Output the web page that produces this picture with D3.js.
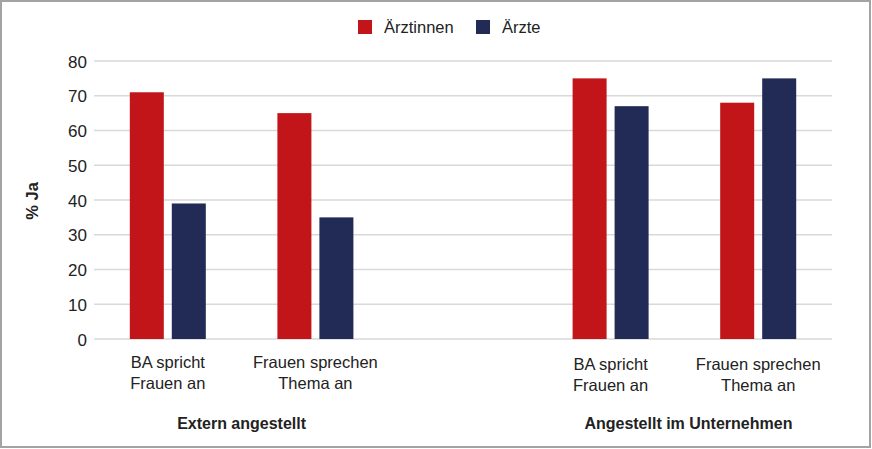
<!DOCTYPE html>
<html>
<head>
<meta charset="utf-8">
<script src="https://cdn.jsdelivr.net/npm/d3@7"></script>
<style>
  html, body { margin: 0; padding: 0; background: #fff; }
  svg { display: block; }
  text { font-family: "Liberation Sans", Arial, sans-serif; fill: #222; }
</style>
</head>
<body>
<script>
const categories = ["BA spricht|Frauen an", "Frauen sprechen|Thema an", "", "BA spricht|Frauen an", "Frauen sprechen|Thema an"];
const slots = ["c1", "c2", "gap", "c3", "c4"];
const seriesNames = ["Ärztinnen", "Ärzte"];
const aerztinnen = [71, 65, null, 75, 68];
const aerzte = [39, 35, null, 67, 75];
const groupLabels = ["Extern angestellt", "Angestellt im Unternehmen"];
const groupSlots = [["c1", "c2"], ["c3", "c4"]];
const yTicks = [0, 10, 20, 30, 40, 50, 60, 70, 80];
const colors = ["#c1151a", "#212b55"];

const W = 872, H = 449;
const svg = d3.select("body").append("svg").attr("width", W).attr("height", H);

svg.append("rect").attr("x", 1).attr("y", 1).attr("width", W - 3).attr("height", H - 3)
  .attr("fill", "#fff").attr("stroke", "#a3a3a3").attr("stroke-width", 2);

const x = d3.scaleBand().domain(slots).range([94, 832]).padding(0);
const y = d3.scaleLinear().domain([0, 80]).range([339, 61]);

// grid
svg.append("g").selectAll("line").data(yTicks).join("line")
  .attr("x1", 94).attr("x2", 832)
  .attr("y1", d => y(d)).attr("y2", d => y(d))
  .attr("stroke", "#d9d9d9").attr("stroke-width", 1.6);

// y axis labels
const yAxis = d3.axisLeft(y).tickValues(yTicks).tickSize(0).tickPadding(0);
const ga = svg.append("g").attr("transform", "translate(87,0)").call(yAxis);
ga.select(".domain").remove();
ga.selectAll("text").attr("font-size", 17).attr("fill", "#222")
  .style("font-family", '"Liberation Sans", Arial, sans-serif').attr("dy", "0.36em");

// bars
const barW = 34, gap = 8;
const series = [aerztinnen, aerzte];
series.forEach((vals, si) => {
  svg.append("g").selectAll("rect")
    .data(slots.map((s, i) => ({ s, v: vals[i] })).filter(d => d.v != null))
    .join("rect")
    .attr("x", d => x(d.s) + x.bandwidth() / 2 - barW - gap / 2 + si * (barW + gap))
    .attr("width", barW)
    .attr("y", d => y(d.v))
    .attr("height", d => y(0) - y(d.v))
    .attr("fill", colors[si]);
});

// category labels
slots.forEach((s, i) => {
  if (!categories[i]) return;
  const lines = categories[i].split("|");
  const t = svg.append("text").attr("text-anchor", "middle")
    .attr("x", x(s) + x.bandwidth() / 2).attr("y", i > 2 ? 370 : 368).attr("font-size", 16.5);
  lines.forEach((l, k) => t.append("tspan").attr("x", x(s) + x.bandwidth() / 2).attr("dy", k ? 21 : 0).text(l));
});

// group labels
groupLabels.forEach((g, i) => {
  const [a, b] = groupSlots[i];
  const cx = (x(a) + x(b) + x.bandwidth()) / 2;
  svg.append("text").attr("text-anchor", "middle").attr("x", cx + (i ? 4 : 0)).attr("y", 429)
    .attr("font-size", 16).attr("font-weight", "bold").text(g);
});

// y title
svg.append("text").attr("transform", "translate(38,201) rotate(-90)")
  .attr("text-anchor", "middle").attr("font-size", 16.5).attr("font-weight", "bold").text("% Ja");

// legend
const legX = [358, 476];
seriesNames.forEach((n, i) => {
  svg.append("rect").attr("x", legX[i]).attr("y", 20).attr("width", 14).attr("height", 14).attr("fill", colors[i]);
  svg.append("text").attr("x", legX[i] + 26).attr("y", 33).attr("font-size", 16.5).text(n);
});
</script>
</body>
</html>
